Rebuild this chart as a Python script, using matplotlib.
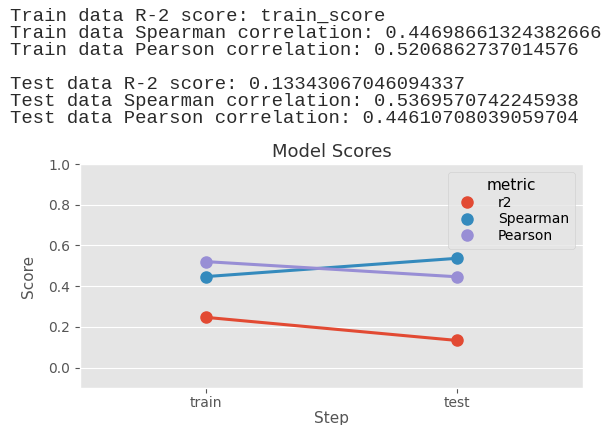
import matplotlib
matplotlib.use("Agg")
import matplotlib.pyplot as plt
from matplotlib.lines import Line2D

# printed scores above the chart
train_lines = [
    "Train data R-2 score: train_score",
    "Train data Spearman correlation: 0.44698661324382666",
    "Train data Pearson correlation: 0.5206862737014576",
]
test_lines = [
    "Test data R-2 score: 0.13343067046094337",
    "Test data Spearman correlation: 0.5369570742245938",
    "Test data Pearson correlation: 0.44610708039059704",
]

# chart data
steps = ["train", "test"]
metrics = ["r2", "Spearman", "Pearson"]
r2 = [0.247, 0.1334]
spearman = [0.4470, 0.5370]
pearson = [0.5207, 0.4461]

plt.style.use("ggplot")
fig = plt.figure(figsize=(6.09, 4.25), dpi=100)

# console-like text block
baselines = [21, 38, 55, 89, 106, 123]
for line, b in zip(train_lines + test_lines, baselines):
    fig.text(10 / 609, 1 - b / 425, line, family="Liberation Mono",
             fontsize=13.6, color="#2a2a2a", va="baseline", ha="left")

ax = fig.add_axes([80 / 609, 1 - 388 / 425, 503 / 609, 224 / 425])

x = list(range(len(steps)))
handles = []
for name, vals in zip(metrics, [r2, spearman, pearson]):
    line, = ax.plot(x, vals, marker="o", markersize=8, linewidth=2.2)
    handles.append(Line2D([], [], marker="o", markersize=8, linestyle="none",
                          color=line.get_color(), label=name))

ax.set_xlim(-0.5, len(steps) - 0.5)
ax.set_ylim(-0.1, 1.0)
ax.set_xticks(x)
ax.set_xticklabels(steps)
ax.set_yticks([0.0, 0.2, 0.4, 0.6, 0.8, 1.0])
ax.tick_params(labelsize=10)
ax.tick_params(axis="x", pad=2)
ax.grid(axis="x", visible=False)
ax.set_title("Model Scores", fontsize=13, color="#333333", pad=5)
ax.set_xlabel("Step", fontsize=11, labelpad=1)
ax.set_ylabel("Score", fontsize=11, labelpad=9)

ax.legend(handles=handles, title="metric", loc="upper right",
          fontsize=10, title_fontsize=11, labelspacing=0.2,
          handletextpad=1.2, borderaxespad=0.6)

fig.savefig("out.png", dpi=100)
